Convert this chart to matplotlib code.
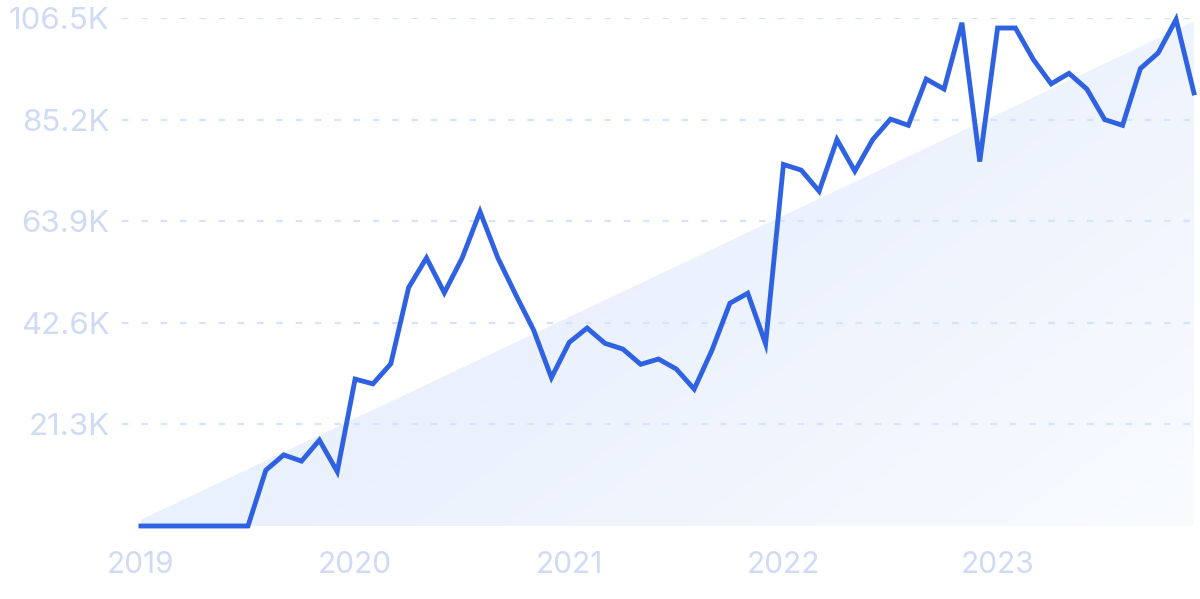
import numpy as np
import matplotlib
matplotlib.use("Agg")
import matplotlib.pyplot as plt
from matplotlib.colors import LinearSegmentedColormap
from matplotlib.patches import Polygon

# ── DATA (monthly, Jan 2019 .. Dec 2023, in thousands) ───────────────────────
values = [
    0, 0, 0, 0, 0, 0, 0, 11.7, 14.9, 13.6, 18.0, 11.4,            # 2019
    30.8, 29.8, 34.0, 50.0, 56.2, 48.9, 56.2, 65.9, 56.2, 48.5, 41.1, 31.1,  # 2020
    38.5, 41.5, 38.3, 37.1, 33.9, 35.0, 32.9, 28.7, 36.9, 46.7, 48.8, 38.2,  # 2021
    75.8, 74.6, 70.2, 81.0, 74.4, 81.0, 85.3, 84.0, 93.7, 91.6, 105.5, 76.4, # 2022
    104.4, 104.4, 97.8, 92.7, 94.9, 91.6, 85.2, 84.0, 95.9, 99.2, 106.2, 90.8, # 2023
]
year_labels = ["2019", "2020", "2021", "2022", "2023"]
y_ticks = [21.3, 42.6, 63.9, 85.2, 106.5]
trend_start = 1.3
trend_end = 105.8
# ─────────────────────────────────────────────────────────────────────────────

LINE = "#2f62e3"
LABEL = "#cfdaf5"
GRID = "#d6e3fb"

plt.rcParams["font.family"] = ["Inter", "DejaVu Sans"]
plt.rcParams["lines.scale_dashes"] = False

x = np.arange(len(values))
W, H = 1200, 599
fig = plt.figure(figsize=(W / 100, H / 100), dpi=100)
ax = fig.add_axes([122 / W, 1 - 526 / H, (1195 - 122) / W, (526 - 18) / H])

ax.set_xlim(-1.06, len(values) - 1 + 0.06)
ax.set_ylim(0, 106.5)

# trend area with a soft gradient
poly = Polygon([(0, 0), (0, trend_start), (len(values) - 1, trend_end),
                (len(values) - 1, 0)], closed=True, facecolor="none",
               edgecolor="none")
ax.add_patch(poly)
gx, gy = np.meshgrid(np.linspace(0, 1, 300), np.linspace(1, 0, 200))
t = np.clip(0.6 * gx + 0.4 * (1 - gy), 0, 1)
cmap = LinearSegmentedColormap.from_list("fade", ["#e2eefb", "#ebf2fd", "#f9fbff"])
img = ax.imshow(t, cmap=cmap, extent=[0, len(values) - 1, 0, 106.5],
                aspect="auto", origin="upper", zorder=0, interpolation="bilinear")
img.set_clip_path(poly)

# grid lines
for v in y_ticks:
    ax.axhline(v, color=GRID, lw=1.6, dashes=(6.5 * 0.72, 12.8 * 0.72), zorder=1)

ax.plot(x, values, color=LINE, lw=3.5, solid_joinstyle="miter",
        zorder=3, clip_on=False)

ax.set_yticks(y_ticks)
ax.set_yticklabels([f"{v:.1f}K" for v in y_ticks])
ax.set_xticks(x[::12])
ax.set_xticklabels(year_labels)
ax.tick_params(axis="both", length=0, labelcolor=LABEL)
ax.tick_params(axis="y", pad=9, labelsize=22.5)
ax.tick_params(axis="x", pad=18, labelsize=21.5)

for s in ax.spines.values():
    s.set_visible(False)

fig.savefig("out.png", dpi=100)
